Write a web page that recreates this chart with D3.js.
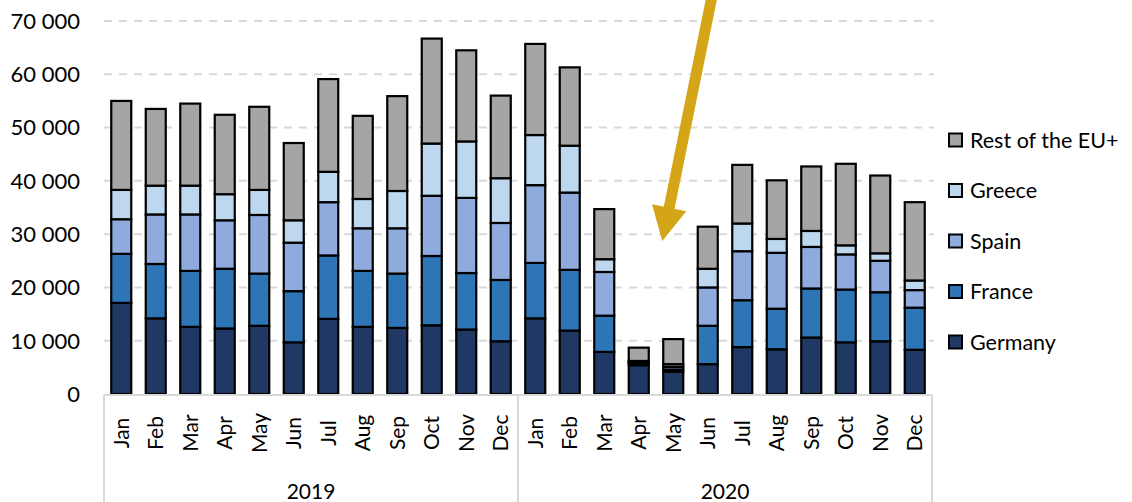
<!DOCTYPE html>
<html>
<head>
<meta charset="utf-8">
<script src="https://cdn.jsdelivr.net/npm/d3@7"></script>
<style>
	body { margin: 0; background: #fff; }
	svg { display: block; font-family: Lato, 'Open Sans', sans-serif; }
</style>
</head>
<body>
<svg id="chart" width="1132" height="502"></svg>
<script>
	'use strict';

	var years = ['2019', '2020'];
	var months = ['Jan', 'Feb', 'Mar', 'Apr', 'May', 'Jun', 'Jul', 'Aug', 'Sep', 'Oct', 'Nov', 'Dec'];
	var series = ['Germany', 'France', 'Spain', 'Greece', 'Rest of the EU+'];
	var yTicks = [0, 10000, 20000, 30000, 40000, 50000, 60000, 70000];

	// monthly values, Jan 2019 .. Dec 2020
	var germany = [17100, 14200, 12600, 12300, 12800, 9700, 14100, 12600, 12400, 12900, 12100, 9900,
		14200, 11900, 7900, 5400, 4200, 5600, 8800, 8400, 10600, 9700, 9900, 8300];
	var france = [9200, 10200, 10500, 11200, 9800, 9600, 11900, 10500, 10200, 13000, 10600, 11500,
		10400, 11400, 6800, 400, 400, 7200, 8800, 7600, 9200, 9900, 9200, 7900];
	var spain = [6500, 9300, 10600, 9100, 11000, 9100, 10000, 8000, 8500, 11300, 14100, 10700,
		14600, 14500, 8200, 200, 500, 7200, 9200, 10500, 7800, 6600, 5900, 3300];
	var greece = [5500, 5400, 5400, 4900, 4700, 4200, 5700, 5500, 7000, 9800, 10600, 8400,
		9400, 8800, 2400, 200, 500, 3500, 5200, 2600, 3000, 1700, 1400, 1800];
	var restEU = [16700, 14400, 15400, 14900, 15600, 14500, 17400, 15600, 17800, 19700, 17100, 15500,
		17100, 14700, 9400, 2500, 4700, 7900, 11000, 11000, 12100, 15300, 14600, 14700];

	var colors = ['#203864', '#2e75b6', '#8faadc', '#bdd7ee', '#a5a5a5'];

	var svg = d3.select('#chart');
	var margin = {left: 104, right: 200, top: 21, axisY: 394};
	var width = 1132 - margin.left - margin.right;

	var cats = [];
	years.forEach(function(yr) {
		months.forEach(function(m) { cats.push(yr + '-' + m); });
	});

	var rows = cats.map(function(c, i) {
		return {cat: c, Germany: germany[i], France: france[i], Spain: spain[i],
			Greece: greece[i], 'Rest of the EU+': restEU[i]};
	});

	var stack = d3.stack().keys(series)(rows);

	var x = d3.scaleBand()
		.domain(cats)
		.range([margin.left, margin.left + width])
		.paddingInner(0.42)
		.paddingOuter(0.21);

	var y = d3.scaleLinear()
		.domain([0, 70000])
		.range([margin.axisY, margin.top]);

	var color = d3.scaleOrdinal().domain(series).range(colors);

	// thousands separated by a space, as in the source
	var fmt = function(d) { return d3.format(',')(d).replace(/,/g, ' '); };

	// gridlines
	svg.append('g')
		.selectAll('line')
		.data(yTicks.slice(1)).enter()
		.append('line')
			.attr('x1', margin.left)
			.attr('x2', margin.left + width + 2)
			.attr('y1', function(d) { return y(d); })
			.attr('y2', function(d) { return y(d); })
			.attr('stroke', '#d9d9d9')
			.attr('stroke-width', 2)
			.attr('stroke-dasharray', '8,7');

	// y tick labels
	svg.append('g')
		.selectAll('text')
		.data(yTicks).enter()
		.append('text')
			.attr('x', 80)
			.attr('y', function(d) { return y(d); })
			.attr('dy', '0.36em')
			.attr('text-anchor', 'end')
			.attr('font-size', 22)
			.attr('fill', '#000')
			.text(fmt);

	// bars
	var layers = svg.append('g')
		.selectAll('g')
		.data(stack).enter()
		.append('g')
			.attr('fill', function(d) { return color(d.key); });

	layers.selectAll('rect')
		.data(function(d) { return d; }).enter()
		.append('rect')
			.attr('x', function(d) { return x(d.data.cat); })
			.attr('width', x.bandwidth())
			.attr('y', function(d) { return y(d[1]); })
			.attr('height', function(d) { return y(d[0]) - y(d[1]); })
			.attr('stroke', '#000')
			.attr('stroke-width', 2.2);

	// category axis box
	var axisG = svg.append('g')
		.attr('stroke', '#d9d9d9')
		.attr('stroke-width', 2);
	axisG.append('line')
		.attr('x1', margin.left).attr('x2', margin.left + width)
		.attr('y1', margin.axisY + 1).attr('y2', margin.axisY + 1);
	[0, 12, 24].forEach(function(i) {
		var xx = margin.left + i * x.step();
		axisG.append('line')
			.attr('x1', xx).attr('x2', xx)
			.attr('y1', margin.axisY + 1).attr('y2', 502);
	});

	// month labels
	svg.append('g')
		.selectAll('text')
		.data(cats).enter()
		.append('text')
			.attr('transform', function(d) {
				return 'translate(' + (x(d) + x.bandwidth() / 2) + ',433) rotate(-90)';
			})
			.attr('dy', '0.36em')
			.attr('text-anchor', 'middle')
			.attr('font-size', 21)
			.text(function(d) { return d.split('-')[1]; });

	// year labels
	svg.append('g')
		.selectAll('text')
		.data(years).enter()
		.append('text')
			.attr('x', function(d, i) { return margin.left + (i * 12 + 6) * x.step(); })
			.attr('y', 491)
			.attr('dy', '0.36em')
			.attr('text-anchor', 'middle')
			.attr('font-size', 21)
			.text(function(d) { return d; });

	// legend
	var legend = svg.append('g')
		.selectAll('g')
		.data(series.slice().reverse()).enter()
		.append('g')
			.attr('transform', function(d, i) { return 'translate(948,' + (140 + i * 50.5) + ')'; });
	legend.append('rect')
		.attr('x', 1).attr('y', -6.5)
		.attr('width', 13).attr('height', 13)
		.attr('fill', function(d) { return color(d); })
		.attr('stroke', '#000')
		.attr('stroke-width', 2);
	legend.append('text')
		.attr('x', 22)
		.attr('dy', '0.36em')
		.attr('font-size', 21.5)
		.text(function(d) { return d; });

	// annotation arrow pointing at the spring 2020 dip
	var tipX = x('2020-May') - 1, tipY = y(28700);
	var tailX = tipX + 50, tailY = 0;
	var len = Math.hypot(tipX - tailX, tipY - tailY);
	var ux = (tipX - tailX) / len, uy = (tipY - tailY) / len;
	var headLen = 34, headW = 17.5;
	var bx = tipX - ux * headLen, by = tipY - uy * headLen;

	svg.append('line')
		.attr('x1', tailX).attr('y1', tailY - 5)
		.attr('x2', bx + ux * 2).attr('y2', by + uy * 2)
		.attr('stroke', '#d4a617')
		.attr('stroke-width', 11);
	svg.append('path')
		.attr('d', 'M' + tipX + ',' + tipY +
			'L' + (bx - uy * headW) + ',' + (by + ux * headW) +
			'L' + (bx + uy * headW) + ',' + (by - ux * headW) + 'Z')
		.attr('fill', '#d4a617');
</script>
</body>
</html>
